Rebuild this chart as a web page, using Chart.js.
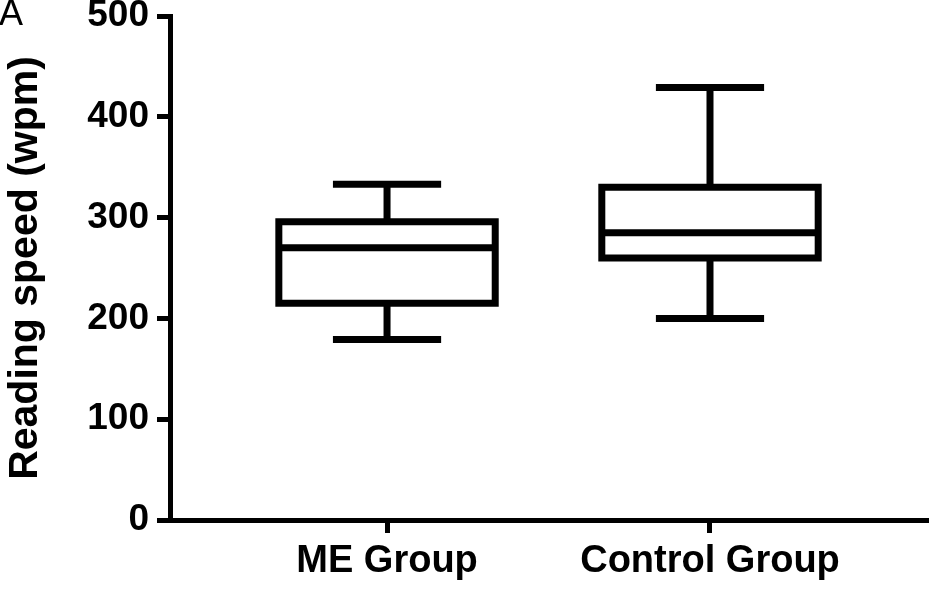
<!DOCTYPE html>
<html>
<head>
<meta charset="utf-8">
<script src="https://cdn.jsdelivr.net/npm/chart.js@4.4.1/dist/chart.umd.min.js"></script>
<style>
  html, body { margin: 0; padding: 0; background: #fff; }
  #wrap { width: 936px; height: 600px; }
</style>
</head>
<body>
<div id="wrap"><canvas id="chart"></canvas></div>
<script>
// Box plot values (wpm)
const groups = ['ME Group', 'Control Group'];
const whiskerMin = [179, 200];
const q1 = [215, 260];
const median = [270, 285];
const q3 = [296, 330];
const whiskerMax = [333, 429];
const yTicks = [0, 100, 200, 300, 400, 500];

const FONT = "'Liberation Sans', Arial, Helvetica, sans-serif";
const LINE = 7;

// draws outline, median and whiskers on top of the (invisible) floating bars
const boxPlotPlugin = {
  id: 'boxPlot',
  afterDatasetsDraw(chart) {
    const { ctx, scales: { y } } = chart;
    const bars = chart.getDatasetMeta(0).data;
    ctx.save();
    ctx.strokeStyle = '#000';
    ctx.lineWidth = LINE;
    ctx.lineCap = 'butt';
    bars.forEach((bar, i) => {
      const half = bar.width / 2;
      const left = bar.x - half, right = bar.x + half;
      const top = y.getPixelForValue(q3[i]);
      const bottom = y.getPixelForValue(q1[i]);
      const med = y.getPixelForValue(median[i]);
      const hi = y.getPixelForValue(whiskerMax[i]);
      const lo = y.getPixelForValue(whiskerMin[i]);
      const cap = half / 2;

      ctx.beginPath();
      ctx.rect(left, top, right - left, bottom - top);
      ctx.stroke();

      ctx.beginPath();
      ctx.moveTo(left, med); ctx.lineTo(right, med);
      // whiskers
      ctx.moveTo(bar.x, top); ctx.lineTo(bar.x, hi);
      ctx.moveTo(bar.x, bottom); ctx.lineTo(bar.x, lo);
      // caps
      ctx.moveTo(bar.x - cap, hi); ctx.lineTo(bar.x + cap, hi);
      ctx.moveTo(bar.x - cap, lo); ctx.lineTo(bar.x + cap, lo);
      ctx.stroke();
    });
    ctx.restore();
  },
  afterDraw(chart) {
    const { ctx } = chart;
    ctx.save();
    ctx.fillStyle = '#000';
    ctx.font = `36px ${FONT}`;
    ctx.textBaseline = 'alphabetic';
    ctx.fillText('A', -1, 25);
    ctx.restore();
  }
};

new Chart(document.getElementById('chart'), {
  type: 'bar',
  data: {
    datasets: [{
      data: groups.map((g, i) => ({ x: i + 1, y: [q1[i], q3[i]] })),
      backgroundColor: 'rgba(0,0,0,0)',
      borderWidth: 0,
      categoryPercentage: 1,
      barPercentage: 0.67
    }]
  },
  options: {
    responsive: true,
    maintainAspectRatio: false,
    animation: false,
    layout: { padding: { top: 16, right: 8, left: 0, bottom: 0 } },
    plugins: {
      legend: { display: false },
      tooltip: { enabled: false }
    },
    scales: {
      x: {
        type: 'linear',
        offset: false,
        min: 0.328,
        max: 2.675,
        afterBuildTicks: (scale) => { scale.ticks = groups.map((_, i) => ({ value: i + 1 })); },
        afterFit: (scale) => {
          scale.height = 80;
          scale.paddingLeft = 0;
          scale.paddingRight = 0;
        },
        ticks: {
          callback: (v) => groups[v - 1],
          color: '#000',
          font: { family: FONT, size: 38, weight: 'bold' },
          padding: 6,
          maxRotation: 0,
          autoSkip: false
        },
        grid: { offset: false, drawOnChartArea: false, drawTicks: true, tickLength: 13, tickWidth: 5, tickColor: '#000' },
        border: { display: true, color: '#000', width: 5 }
      },
      y: {
        min: 0,
        max: 500,
        afterBuildTicks: (scale) => { scale.ticks = yTicks.map(v => ({ value: v })); },
        afterFit: (scale) => {
          scale.width = 170;
          scale.paddingTop = 0;
          scale.paddingBottom = 0;
        },
        ticks: {
          color: '#000',
          font: { family: FONT, size: 37, weight: 'bold' },
          padding: 8
        },
        title: {
          display: true,
          text: 'Reading speed (wpm)',
          color: '#000',
          font: { family: FONT, size: 41, weight: 'bold' },
          padding: { top: 1, bottom: 0 }
        },
        grid: { drawOnChartArea: false, drawTicks: true, tickLength: 13, tickWidth: 5, tickColor: '#000' },
        border: { display: true, color: '#000', width: 5 }
      }
    }
  },
  plugins: [boxPlotPlugin]
});
</script>
</body>
</html>
